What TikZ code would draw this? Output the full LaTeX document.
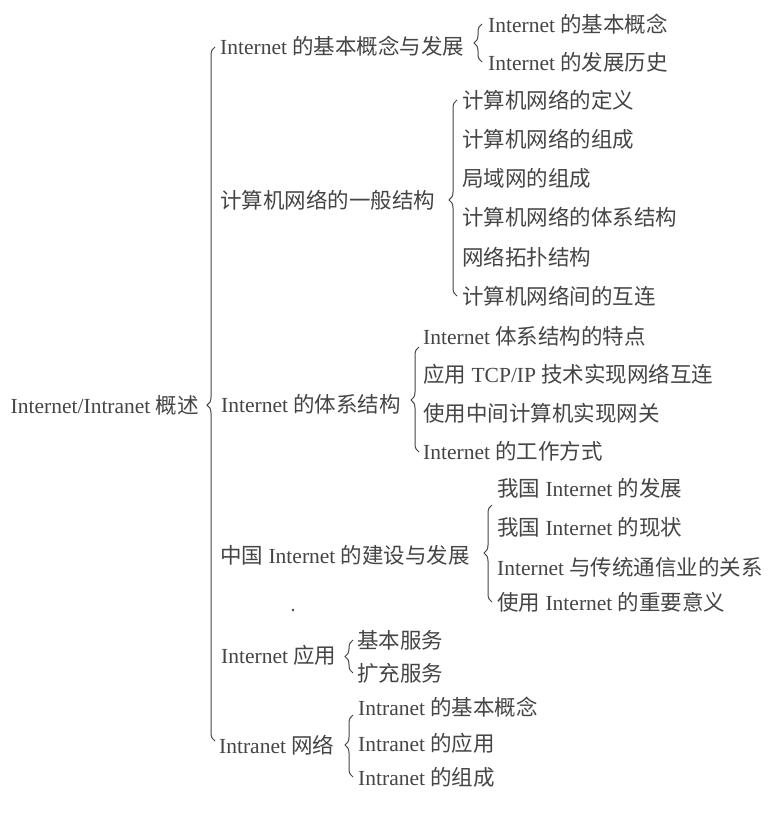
\documentclass[tikz,border=0pt]{standalone}
\usepackage{fontspec}
\setmainfont{Liberation Serif}
\newfontfamily\cjk{Noto Sans CJK SC}
\usetikzlibrary{decorations.pathreplacing}
\definecolor{ink}{HTML}{454545}
\begin{document}
\begin{tikzpicture}[x=1pt,y=-1pt,
  lbl/.style={anchor=west, inner sep=0pt, text=ink, font=\fontsize{21.5}{25}\selectfont},
  brc/.style={draw=ink, line width=1pt, decorate, decoration={brace, amplitude=8pt, aspect=#1}}]
\useasboundingbox[fill=white] (0,0) rectangle (768,813);
% root
\node[lbl, anchor=east] (root) at (199,405) {Internet/Intranet {\cjk 概述}};
% level 1
\node[lbl] (A) at (220,46) {Internet {\cjk 的基本概念与发展}};
\node[lbl] (B) at (220,200) {\cjk 计算机网络的一般结构};
\node[lbl] (C) at (221,404) {Internet {\cjk 的体系结构}};
\node[lbl] (D) at (220,555) {{\cjk 中国} Internet {\cjk 的建设与发展}};
\node[lbl] (E) at (221,655) {Internet {\cjk 应用}};
\node[lbl] (F) at (219,745) {Intranet {\cjk 网络}};
% group A
\node[lbl] (A1) at (488,24) {Internet {\cjk 的基本概念}};
\node[lbl] (A2) at (488,62) {Internet {\cjk 的发展历史}};
% group B
\node[lbl] (B1) at (462,100) {\cjk 计算机网络的定义};
\node[lbl] (B2) at (462,139) {\cjk 计算机网络的组成};
\node[lbl] (B3) at (462,178) {\cjk 局域网的组成};
\node[lbl] (B4) at (462,217) {\cjk 计算机网络的体系结构};
\node[lbl] (B5) at (462,257) {\cjk 网络拓扑结构};
\node[lbl] (B6) at (462,296) {\cjk 计算机网络间的互连};
% group C
\node[lbl] (C1) at (423,336) {Internet {\cjk 体系结构的特点}};
\node[lbl] (C2) at (423,374) {{\cjk 应用} TCP/IP {\cjk 技术实现网络互连}};
\node[lbl] (C3) at (423,413) {\cjk 使用中间计算机实现网关};
\node[lbl] (C4) at (423,451) {Internet {\cjk 的工作方式}};
% group D
\node[lbl] (D1) at (497,488) {{\cjk 我国} Internet {\cjk 的发展}};
\node[lbl] (D2) at (497,527) {{\cjk 我国} Internet {\cjk 的现状}};
\node[lbl] (D3) at (497,567) {Internet {\cjk 与传统通信业的关系}};
\node[lbl] (D4) at (497,602) {{\cjk 使用} Internet {\cjk 的重要意义}};
% group E
\node[lbl] (E1) at (357,640) {\cjk 基本服务};
\node[lbl] (E2) at (357,673) {\cjk 扩充服务};
% group F
\node[lbl] (F1) at (358,707) {Intranet {\cjk 的基本概念}};
\node[lbl] (F2) at (358,743) {Intranet {\cjk 的应用}};
\node[lbl] (F3) at (358,777) {Intranet {\cjk 的组成}};
% braces
\draw[brc=0.484] (215,741) -- (215,47);
\draw[brc=0.5]   (482,62) -- (482,24);
\draw[brc=0.49]  (457,296) -- (457,100);
\draw[brc=0.495] (419,452) -- (419,347);
\draw[brc=0.505] (492,602) -- (492,505);
\draw[brc=0.5]   (353,673) -- (353,640);
\draw[brc=0.516] (353,777) -- (353,715);
% stray print dot
\fill[ink] (293,610) circle (1.3);
\end{tikzpicture}
\end{document}
